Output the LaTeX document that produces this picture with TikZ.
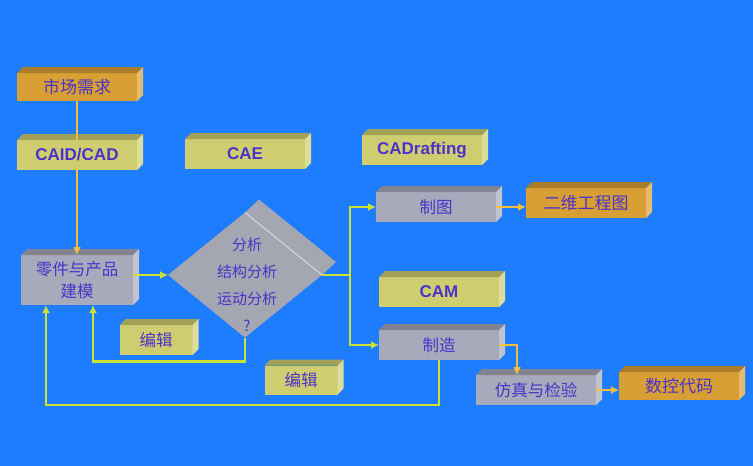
\documentclass[tikz,border=0pt]{standalone}
\usepackage{fontspec}
\setmainfont{Liberation Sans}
\newfontfamily\cjk{Noto Sans CJK SC}
\usetikzlibrary{arrows.meta, calc, shapes.geometric}
\definecolor{bgblue}{RGB}{30,124,255}
\definecolor{inkblue}{RGB}{76,50,200}
\definecolor{orangefront}{RGB}{216,160,52}
\definecolor{olivefront}{RGB}{206,206,112}
\definecolor{grayfront}{RGB}{166,170,186}
\definecolor{diagray}{RGB}{164,167,178}
\definecolor{greenline}{RGB}{204,226,48}
\definecolor{orangeline}{RGB}{246,190,64}
\tikzstyle{box} = [
    rectangle,
    text=inkblue,
    align=center,
    inner sep=0pt,
    outer sep=0pt,
    minimum width=120pt,
    minimum height=30pt
]
\tikzstyle{orange_box} = [box, fill=orangefront, font=\cjk\fontsize{17}{20}\selectfont]
\tikzstyle{gray_box} = [box, fill=grayfront, font=\cjk\fontsize{16.5}{22}\selectfont]
\tikzstyle{olive_box} = [box, fill=olivefront, font=\bfseries\fontsize{17}{20}\selectfont]
\tikzstyle{edit_box} = [box, fill=olivefront, font=\cjk\fontsize{16.5}{20}\selectfont, minimum width=73pt]
\tikzstyle{green_link} = [draw=greenline, line width=2.5pt]
\tikzstyle{orange_link} = [draw=orangeline, line width=2.5pt]

\begin{document}
\begin{tikzpicture}[
    x=1pt, y=-1pt,
    >={Latex[length=8pt, width=8pt]}
]
\useasboundingbox[fill=bgblue] (0,0) rectangle (753,466);

% left column
\node [orange_box, minimum height=28pt] (market) at (77,87) {市场需求};
\node [olive_box] (caid) at (77,155) {CAID/CAD};
\node [gray_box, minimum width=112pt, minimum height=50pt] (model) at (77,280) {零件与产品\\建模};
\node [edit_box] (edit_a) at (156,340) {编辑};

% middle
\node [olive_box] (cae) at (245,154) {CAE};
\node [edit_box, minimum height=29pt] (edit_b) at (301,380) {编辑};

% analysis diamond
\node [diamond, fill=diagray, inner sep=0pt, outer sep=0pt,
    minimum width=154pt, minimum height=125pt] (dia) at (245,275) {};
\fill [diagray] (dia.north) -- ++(14,-13) -- ($(dia.east)+(14,-13)$) -- (dia.east) -- cycle;
\draw [white!70!diagray, line width=0.8pt] (dia.north) -- (dia.east);
\node [text=inkblue, align=center, font=\cjk\fontsize{15}{27}\selectfont]
    (dia_text) at (247,285) {分析\\结构分析\\运动分析\\?};

% right side
\node [olive_box] (drafting) at (422,150) {CADrafting};
\node [gray_box] (drawing) at (436,207) {制图};
\node [orange_box] (twod) at (586,203) {二维工程图};
\node [olive_box] (cam) at (439,292) {CAM};
\node [gray_box] (make) at (439,345) {制造};
\node [gray_box] (sim) at (536,390) {仿真与检验};
\node [orange_box, minimum height=28pt] (nc) at (679,386) {数控代码};

% 3d faces
\foreach \n/\c in {market/orangefront, caid/olivefront, model/grayfront,
    edit_a/olivefront, cae/olivefront, edit_b/olivefront, drafting/olivefront,
    drawing/grayfront, twod/orangefront, cam/olivefront, make/grayfront,
    sim/grayfront, nc/orangefront}
{
    \fill [\c!78!black] (\n.north west) -- ++(6,-6) -- ($(\n.north east)+(6,-6)$) -- (\n.north east) -- cycle;
    \fill [\c!70!white] (\n.north east) -- ++(6,-6) -- ($(\n.south east)+(6,-6)$) -- (\n.south east) -- cycle;
}

% links
\coordinate (split) at (350,275);
\draw [orange_link] (market) -- (caid);
\draw [orange_link, ->] (caid) -- (model);
\draw [green_link, ->] (model.east |- dia.west) -- (dia.west);
\draw [green_link] (dia.east) -- (split);
\draw [green_link, ->] (split) |- (drawing.west);
\draw [green_link, ->] (split) |- (make.west);
\draw [orange_link, ->] (drawing.east) -- (drawing.east -| twod.west);
\draw [orange_link, ->] (make.east) -| ($(sim.north)+(-19,0)$);
\draw [orange_link, ->] (sim.east) -- (sim.east -| nc.west);
\draw [green_link, ->] (dia.south) -- ++(0,24) -| ($(model.south)+(16,0)$);
\draw [green_link, ->] (make.south) -- ++(0,45) -| ($(model.south)+(-31,0)$);
\end{tikzpicture}
\end{document}
